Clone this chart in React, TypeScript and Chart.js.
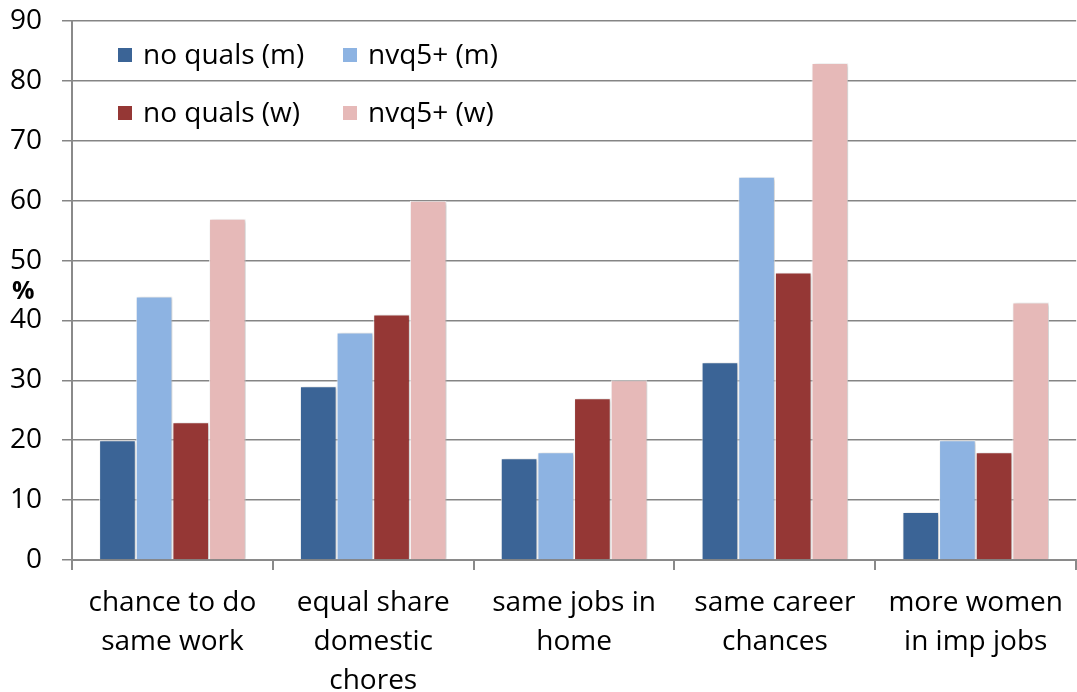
import React, { useEffect, useRef } from "react";
import { Chart, registerables } from "chart.js";

Chart.register(...registerables);

const categories: string[][] = [
  ["chance to do", "same work"],
  ["equal share", "domestic", "chores"],
  ["same jobs in", "home"],
  ["same career", "chances"],
  ["more women", "in imp jobs"],
];
const seriesNames = ["no quals (m)", "nvq5+ (m)", "no quals (w)", "nvq5+ (w)"];
const noQualsM = [20, 29, 17, 33, 8];
const nvq5M = [44, 38, 18, 64, 20];
const noQualsW = [23, 41, 27, 48, 18];
const nvq5W = [57, 60, 30, 83, 43];
const seriesColors = ["#3b6496", "#8db3e2", "#953735", "#e6b9b8"];
const yTicks = [0, 10, 20, 30, 40, 50, 60, 70, 80, 90];

const FONT = "'Open Sans', Lato, sans-serif";

const extrasPlugin = {
  id: "extras",
  beforeDatasetsDraw(chart: any) {
    const ctx = chart.ctx;
    ctx.save();
    ctx.shadowColor = "rgba(0,0,0,0.22)";
    ctx.shadowBlur = 4;
    ctx.shadowOffsetX = 2;
    ctx.shadowOffsetY = 1;
  },
  afterDatasetsDraw(chart: any) {
    chart.ctx.restore();
  },
  afterDraw(chart: any) {
    const ctx = chart.ctx;
    ctx.save();
    ctx.fillStyle = "#000";
    ctx.font = `bold 25px ${FONT}`;
    ctx.textAlign = "left";
    ctx.textBaseline = "middle";
    ctx.fillText("%", 12, 292);
    const items = [
      { x: 118, y: 55 },
      { x: 343, y: 55 },
      { x: 118, y: 113 },
      { x: 343, y: 113 },
    ];
    ctx.font = `28px ${FONT}`;
    items.forEach((p, i) => {
      ctx.fillStyle = seriesColors[i];
      ctx.fillRect(p.x, p.y - 7, 14, 14);
      ctx.fillStyle = "#000";
      ctx.fillText(seriesNames[i], p.x + 25, p.y + 1);
    });
    ctx.restore();
  },
};

export default function App() {
  const ref = useRef<HTMLCanvasElement | null>(null);
  useEffect(() => {
    document.body.style.margin = "0";
    const canvas = ref.current!;
    const data = [noQualsM, nvq5M, noQualsW, nvq5W];
    const chart = new Chart(canvas, {
      type: "bar",
      data: {
        labels: categories as any,
        datasets: data.map((d, i) => ({
          label: seriesNames[i],
          data: d,
          backgroundColor: seriesColors[i],
          borderColor: "rgba(255,255,255,0.85)",
          borderWidth: 1,
          categoryPercentage: 0.73,
          barPercentage: 1.0,
        })),
      },
      options: {
        animation: false,
        responsive: false,
        devicePixelRatio: 1,
        layout: { padding: { left: 0, right: 0, top: 21, bottom: 0 } },
        plugins: { legend: { display: false }, tooltip: { enabled: false } },
        scales: {
          x: {
            grid: {
              drawOnChartArea: false,
              drawTicks: true,
              tickLength: 10,
              color: "#8a8a8a",
              lineWidth: 2,
              offset: true,
            },
            border: { color: "#8a8a8a", width: 2 },
            ticks: {
              color: "#000",
              font: { family: FONT, size: 28, lineHeight: 1.38 },
              padding: 14,
              maxRotation: 0,
              autoSkip: false,
            },
            afterFit(scale: any) {
              scale.height = 132;
            },
          },
          y: {
            min: 0,
            max: 90,
            afterBuildTicks(scale: any) {
              scale.ticks = yTicks.map((v) => ({ value: v }));
            },
            grid: {
              color: "#858585",
              lineWidth: 1.5,
              tickLength: 10,
              drawTicks: true,
            },
            border: { color: "#8a8a8a", width: 2 },
            ticks: {
              color: "#000",
              font: { family: FONT, size: 28 },
              padding: 20,
            },
            afterFit(scale: any) {
              scale.width = 72;
              scale.paddingTop = 0;
              scale.paddingBottom = 0;
            },
          },
        },
      },
      plugins: [extrasPlugin],
    });
    return () => chart.destroy();
  }, []);
  return (
    <div style={{ width: 1077, height: 692 }}>
      <canvas ref={ref} width={1077} height={692} style={{ display: "block" }} />
    </div>
  );
}
